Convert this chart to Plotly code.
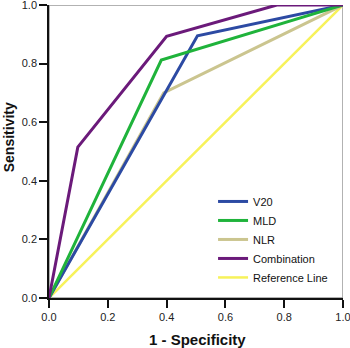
import plotly.graph_objects as go

names = ["V20", "MLD", "NLR", "Combination", "Reference Line"]
colors = ["#2c4aa3", "#1fb33b", "#cbc58f", "#6b1a7a", "#f7f25a"]

v20_x = [0.0, 0.505, 1.0]
v20_y = [0.0, 0.895, 1.0]
mld_x = [0.0, 0.382, 1.0]
mld_y = [0.0, 0.812, 1.0]
nlr_x = [0.0, 0.39, 1.0]
nlr_y = [0.0, 0.70, 1.0]
comb_x = [0.0, 0.098, 0.40, 0.775, 1.0]
comb_y = [0.0, 0.515, 0.893, 1.0, 1.0]
ref_x = [0.0, 1.0]
ref_y = [0.0, 1.0]

tick_vals = [0.0, 0.2, 0.4, 0.6, 0.8, 1.0]
tick_text = ["0.0", "0.2", "0.4", "0.6", "0.8", "1.0"]

series = [(v20_x, v20_y), (mld_x, mld_y), (nlr_x, nlr_y), (comb_x, comb_y), (ref_x, ref_y)]

fig = go.Figure()
order = [4, 2, 0, 1, 3]
traces = {}
for i in range(5):
    xs, ys = series[i]
    traces[i] = go.Scatter(x=xs, y=ys, mode="lines", name=names[i],
                           line=dict(color=colors[i], width=3 if i != 4 else 2.5),
                           legendrank=i + 1, cliponaxis=False)
for i in order:
    fig.add_trace(traces[i])

fig.add_shape(type="rect", x0=0, x1=1, y0=0, y1=1, xref="x", yref="y",
              line=dict(color="#999999", width=1.5), layer="below")

font_family = "Arial, Liberation Sans, sans-serif"
fig.update_layout(
    width=350, height=348,
    margin=dict(l=49, r=7, t=5, b=50, autoexpand=False),
    paper_bgcolor="white", plot_bgcolor="white",
    font=dict(family=font_family, size=11, color="#222222"),
    showlegend=True,
    legend=dict(x=0.558, y=0.379, xanchor="left", yanchor="top",
                bgcolor="rgba(0,0,0,0)", font=dict(size=11, color="#111111"),
                traceorder="normal", itemwidth=30, tracegroupgap=0),
    xaxis=dict(range=[0, 1], tickvals=tick_vals, ticktext=tick_text,
               showgrid=False, zeroline=False, showline=True, linecolor="#111111",
               linewidth=1.5, ticks="outside", ticklen=8, tickwidth=1.5,
               tickcolor="#111111", fixedrange=True, ticklabeloverflow="allow",
               automargin=False),
    yaxis=dict(range=[0, 1], tickvals=tick_vals, ticktext=tick_text,
               showgrid=False, zeroline=False, showline=True, linecolor="#111111",
               linewidth=1.5, ticks="outside", ticklen=8, tickwidth=1.5,
               tickcolor="#111111", fixedrange=True, ticklabeloverflow="allow",
               automargin=False),
    annotations=[
        dict(text="<b>1 - Specificity</b>", xref="paper", yref="paper",
             x=0.505, y=-0.142, xanchor="center", yanchor="middle", showarrow=False,
             font=dict(size=15, color="#111111", family=font_family)),
        dict(text="<b>Sensitivity</b>", xref="paper", yref="paper",
             x=-0.138, y=0.55, xanchor="center", yanchor="middle", showarrow=False,
             textangle=-90,
             font=dict(size=14, color="#111111",
                       family="Liberation Sans Narrow, Arial Narrow, Arial, sans-serif")),
    ],
)

fig.write_html("out.html", config={"displayModeBar": False},
               post_script="document.body.style.margin='0';")
